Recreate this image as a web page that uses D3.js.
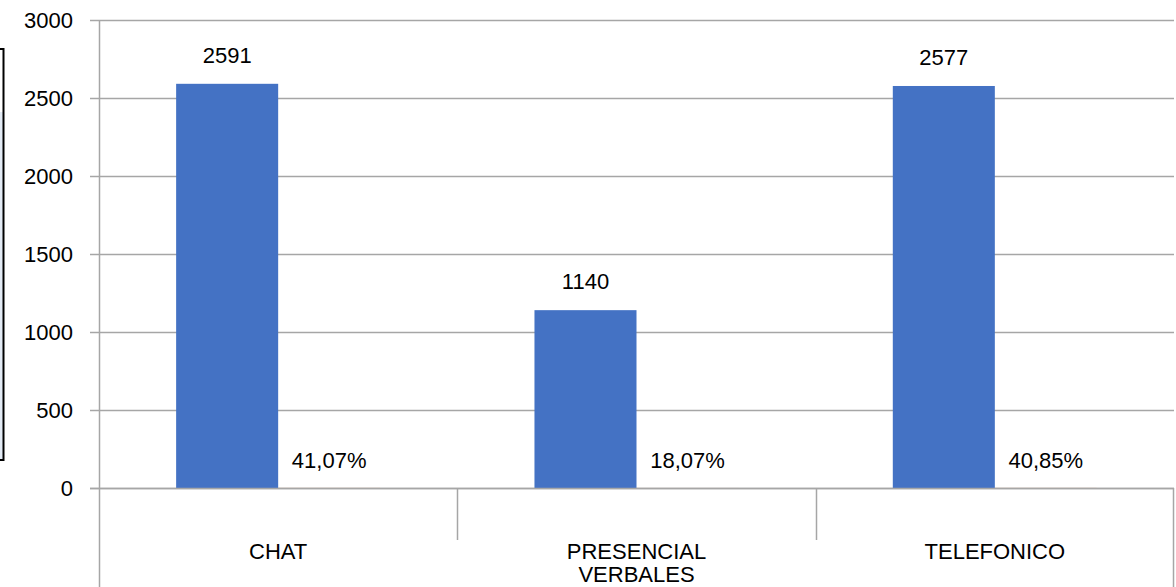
<!DOCTYPE html>
<html>
  <head>
    <meta charset="utf-8" />
    <title>VERBALES</title>
    <script src="https://d3js.org/d3.v7.js"></script>
    <style>
      body { margin: 0; background: #fff; }
      text { font-family: 'Liberation Sans', Arial, sans-serif; fill: #000; }
    </style>
  </head>
  <body>
    <svg width="1176" height="587"></svg>

    <script>
      (function (d3) {
        'use strict';

        const categories = ['CHAT', 'PRESENCIAL', 'TELEFONICO'];
        const counts = [2591, 1140, 2577];
        const percents = [41.07, 18.07, 40.85];
        const groupLabel = 'VERBALES';
        const yTicks = [0, 500, 1000, 1500, 2000, 2500, 3000];

        const svg = d3.select('svg');
        const width = +svg.attr('width');
        const height = +svg.attr('height');

        const margin = { top: 20, right: 2, bottom: 99, left: 99 };
        const plotRight = width - margin.right;
        const plotBottom = height - margin.bottom;

        const grey = '#a6a6a6';
        const barColor = '#4472c4';
        const fs = 22;

        // cropped border left over at the very left edge
        svg.append('rect')
          .attr('x', 0).attr('y', 112)
          .attr('width', 3).attr('height', 348)
          .attr('fill', '#e3ebf5');
        svg.append('rect')
          .attr('x', -10).attr('y', 49)
          .attr('width', 13.5).attr('height', 411)
          .attr('fill', 'none')
          .attr('stroke', '#000')
          .attr('stroke-width', 2);

        const rows = categories.map((c, i) => ({
          cat: c,
          count: counts[i],
          pct: percents[i],
        }));

        const x = d3.scaleBand()
          .domain(categories)
          .range([margin.left, plotRight])
          .padding(0);

        const xSub = d3.scaleBand()
          .domain(['count', 'pct'])
          .range([0, x.bandwidth()])
          .paddingInner(0)
          .paddingOuter(0.756);

        const y = d3.scaleLinear()
          .domain([0, 3000])
          .range([plotBottom, margin.top]);

        // gridlines
        svg.append('g')
          .selectAll('line')
          .data(yTicks)
          .join('line')
          .attr('x1', margin.left - 9)
          .attr('x2', plotRight)
          .attr('y1', (d) => Math.round(y(d)) + 0.5)
          .attr('y2', (d) => Math.round(y(d)) + 0.5)
          .attr('stroke', grey)
          .attr('stroke-width', 1.5);

        // y axis labels
        const yAxis = d3.axisLeft(y)
          .tickValues(yTicks)
          .tickFormat(d3.format('d'))
          .tickSize(0)
          .tickPadding(26);
        const yAxisG = svg.append('g')
          .attr('transform', `translate(${margin.left},0)`)
          .call(yAxis);
        yAxisG.select('.domain').remove();
        yAxisG.selectAll('text')
          .style('font-size', fs + 'px')
          .style('font-family', 'Liberation Sans, Arial, sans-serif')
          .attr('fill', '#000');

        // bars
        const g = svg.append('g');
        g.selectAll('rect.count')
          .data(rows)
          .join('rect')
          .attr('class', 'count')
          .attr('x', (d) => x(d.cat) + xSub('count'))
          .attr('y', (d) => y(d.count))
          .attr('width', xSub.bandwidth())
          .attr('height', (d) => y(0) - y(d.count))
          .attr('fill', barColor);

        g.selectAll('rect.pct')
          .data(rows)
          .join('rect')
          .attr('class', 'pct')
          .attr('x', (d) => x(d.cat) + xSub('pct'))
          .attr('y', (d) => y(d.pct / 100))
          .attr('width', xSub.bandwidth())
          .attr('height', (d) => y(0) - y(d.pct / 100))
          .attr('fill', '#ed7d31');

        // value labels
        g.selectAll('text.count')
          .data(rows)
          .join('text')
          .attr('class', 'count')
          .attr('x', (d) => x(d.cat) + xSub('count') + xSub.bandwidth() / 2)
          .attr('y', (d) => y(d.count) - 21)
          .attr('text-anchor', 'middle')
          .style('font-size', fs + 'px')
          .text((d) => d.count);

        g.selectAll('text.pct')
          .data(rows)
          .join('text')
          .attr('class', 'pct')
          .attr('x', (d) => x(d.cat) + xSub('pct') + xSub.bandwidth() / 2)
          .attr('y', (d) => y(d.pct / 100) - 20)
          .attr('text-anchor', 'middle')
          .style('font-size', fs + 'px')
          .text((d) => d.pct.toFixed(2).replace('.', ',') + '%');

        // category axis
        const axisG = svg.append('g');
        axisG.append('line')
          .attr('x1', margin.left - 9).attr('x2', plotRight)
          .attr('y1', plotBottom + 0.5).attr('y2', plotBottom + 0.5)
          .attr('stroke', grey).attr('stroke-width', 1.5);

        axisG.append('line')
          .attr('x1', margin.left + 0.5).attr('x2', margin.left + 0.5)
          .attr('y1', margin.top).attr('y2', height)
          .attr('stroke', grey).attr('stroke-width', 1.5);

        axisG.append('line')
          .attr('x1', plotRight - 0.5).attr('x2', plotRight - 0.5)
          .attr('y1', plotBottom).attr('y2', height)
          .attr('stroke', grey).attr('stroke-width', 1.5);

        axisG.selectAll('line.sep')
          .data(categories.slice(1))
          .join('line')
          .attr('class', 'sep')
          .attr('x1', (d) => Math.round(x(d)) + 0.5)
          .attr('x2', (d) => Math.round(x(d)) + 0.5)
          .attr('y1', plotBottom)
          .attr('y2', plotBottom + 52)
          .attr('stroke', grey).attr('stroke-width', 1.5);

        axisG.selectAll('text.cat')
          .data(categories)
          .join('text')
          .attr('class', 'cat')
          .attr('x', (d) => x(d) + x.bandwidth() / 2)
          .attr('y', plotBottom + 71)
          .attr('text-anchor', 'middle')
          .style('font-size', fs + 'px')
          .text((d) => d);

        axisG.append('text')
          .attr('x', (margin.left + plotRight) / 2)
          .attr('y', plotBottom + 94)
          .attr('text-anchor', 'middle')
          .style('font-size', fs + 'px')
          .text(groupLabel);
      })(d3);
    </script>
  </body>
</html>
